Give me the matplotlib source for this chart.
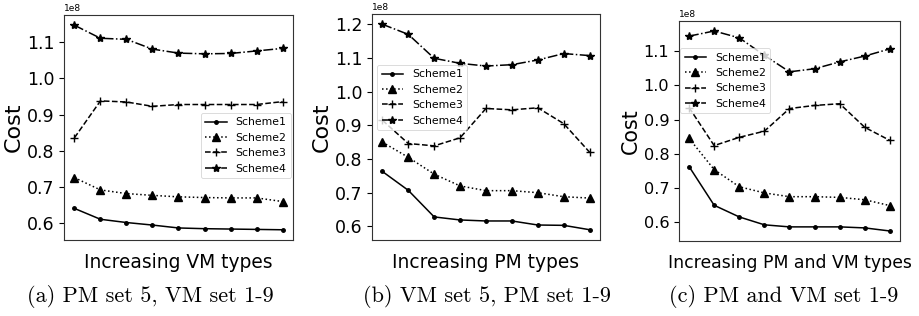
import matplotlib
matplotlib.use('Agg')
import matplotlib.pyplot as plt
from matplotlib.ticker import MultipleLocator
import numpy as np

# Cost values (x1e8), 9 points per scheme
vm_s1 = [0.641, 0.611, 0.602, 0.595, 0.587, 0.585, 0.584, 0.583, 0.582]
vm_s2 = [0.726, 0.692, 0.682, 0.677, 0.673, 0.671, 0.670, 0.670, 0.660]
vm_s3 = [0.836, 0.938, 0.935, 0.923, 0.928, 0.928, 0.928, 0.928, 0.936]
vm_s4 = [1.147, 1.111, 1.108, 1.081, 1.070, 1.068, 1.069, 1.076, 1.083]

pm_s1 = [0.763, 0.707, 0.628, 0.619, 0.616, 0.616, 0.604, 0.603, 0.590]
pm_s2 = [0.850, 0.805, 0.755, 0.720, 0.706, 0.706, 0.700, 0.688, 0.684]
pm_s3 = [0.915, 0.846, 0.839, 0.863, 0.950, 0.946, 0.952, 0.905, 0.820]
pm_s4 = [1.200, 1.170, 1.099, 1.084, 1.076, 1.080, 1.094, 1.113, 1.107]

both_s1 = [0.763, 0.650, 0.616, 0.593, 0.587, 0.587, 0.587, 0.584, 0.575]
both_s2 = [0.845, 0.754, 0.704, 0.686, 0.675, 0.675, 0.673, 0.666, 0.649]
both_s3 = [0.935, 0.824, 0.848, 0.866, 0.932, 0.941, 0.946, 0.877, 0.839]
both_s4 = [1.143, 1.158, 1.138, 1.087, 1.039, 1.048, 1.068, 1.085, 1.106]

schemes = ['Scheme1', 'Scheme2', 'Scheme3', 'Scheme4']
xlabels = ['Increasing VM types', 'Increasing PM types', 'Increasing PM and VM types']
captions = ['(a) PM set 5, VM set 1-9', '(b) VM set 5, PM set 1-9', '(c) PM and VM set 1-9']

styles = [('-', '.', 5), (':', '^', 6), ('--', '+', 6), ('-.', '*', 6)]

W, H = 920, 316
fig = plt.figure(figsize=(W / 100, H / 100), dpi=100)


def add_ax(left, right, top, bottom):
    return fig.add_axes([left / W, 1 - bottom / H, (right - left) / W, (bottom - top) / H])


# axes, data, legend anchor, text scale (panel c was shrunk a little)
panels = [
    (add_ax(64, 293, 15, 240), [vm_s1, vm_s2, vm_s3, vm_s4], (0.598, 0.564), 1.0),
    (add_ax(372, 600, 14, 240), [pm_s1, pm_s2, pm_s3, pm_s4], (0.023, 0.774), 1.0),
    (add_ax(679, 900, 21, 241), [both_s1, both_s2, both_s3, both_s4], (0.006, 0.876), 0.93),
]

for k, (ax, series, leg_pos, sc) in enumerate(panels):
    x = np.arange(1, 10)
    for vals, name, (ls, mk, ms) in zip(series, schemes, styles):
        ax.plot(x, np.array(vals) * 1e8, color='black', linestyle=ls, marker=mk,
                markersize=ms, linewidth=1.1, label=name)
    ax.set_xticks([])
    ax.yaxis.set_major_locator(MultipleLocator(0.1e8))
    ax.tick_params(axis='y', labelsize=12.5 * sc)
    ax.yaxis.get_offset_text().set_fontsize(6.5)
    for sp in ax.spines.values():
        sp.set_color('#333333')
    ax.set_ylabel('Cost', fontsize=16 * sc, labelpad=2)
    ax.set_xlabel(xlabels[k], fontsize=13.4 * sc, labelpad=9)
    leg = ax.legend(loc='upper left', bbox_to_anchor=leg_pos, borderaxespad=0,
                    fontsize=7.8, labelspacing=0.5, handlelength=2.0)
    leg.get_frame().set_linewidth(0.6)

cap_x = [150, 487, 784]
for cx, cap in zip(cap_x, captions):
    fig.text(cx / W, 1 - 297 / H, cap, fontname='cmr10', fontsize=16,
             ha='center', va='center')

fig.savefig('out.png', dpi=100)
